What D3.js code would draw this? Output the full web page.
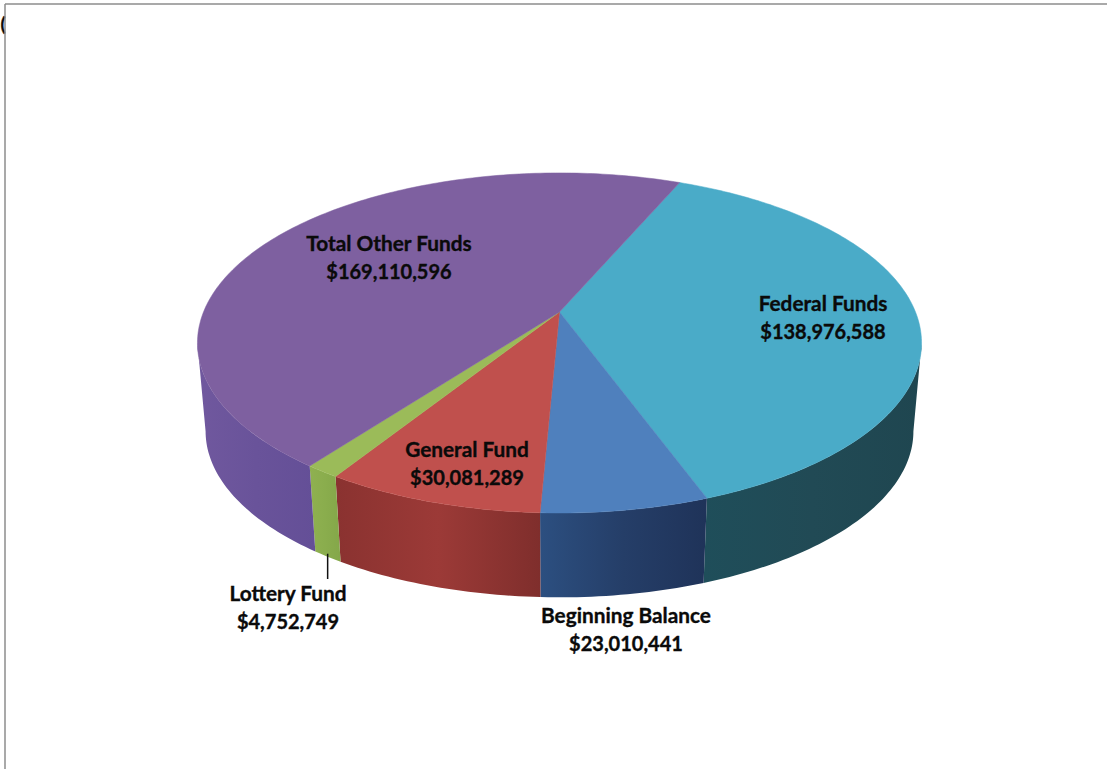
<!DOCTYPE html>
<html lang="en">
<head>
<meta charset="UTF-8">
<title>Funding sources</title>
<script src="https://d3js.org/d3.v7.min.js"></script>
<style>
    html, body { margin: 0; padding: 0; background: #fff; }
    svg { display: block; }
    text { font-family: Lato, sans-serif; font-weight: 700; fill: #0a0a0a; text-anchor: middle; stroke: #0a0a0a; stroke-width: 0.35px; }
</style>
</head>
<body>
<svg id="chart" width="1107" height="769"></svg>
<script>
// data
const categories = ["Federal Funds", "Beginning Balance", "General Fund", "Lottery Fund", "Total Other Funds"];
const amounts = [138976588, 23010441, 30081289, 4752749, 169110596];
const amountLabels = ["$138,976,588", "$23,010,441", "$30,081,289", "$4,752,749", "$169,110,596"];

// colours
const topColors = ["#4aabc8", "#4f80bd", "#c0504d", "#9bbb59", "#7e60a0"];
const wallColors = [
    ["#1f4e5a", "#214a55", "#1f4650"],
    ["#2c4f80", "#253e68", "#1f3359"],
    ["#8a3230", "#9c3a37", "#7f2e2c"],
    ["#8fb050", "#8aad4d", "#84a749"],
    ["#70589e", "#69539a", "#644f97"]
];

// label centres, first line baseline
const labelPos = [[823, 311], [626, 623], [467, 457], [288, 601], [389, 251]];
const lineGap = 27.5;

const svg = d3.select("#chart");
const defs = svg.append("defs");

// perspective of the disc: k is how much the far side shrinks
const k = 0.182;
const cx = 559.5;
const divide = a => {
    const X = Math.sin(a), Y = Math.cos(a), w = 1 + k * Y;
    return [X / w, Y / w];
};
const disc = (rx, ry, y0) => {
    const sx = d3.scaleLinear().domain([-1, 1]).range([cx - rx, cx + rx]);
    const sy = d3.scaleLinear().domain([-1, 1]).range([y0 + ry, y0 - ry]);
    return a => { const p = divide(a); return [sx(p[0]), sy(p[1])]; };
};
const topDisc = disc(356, 164.4, 312);
const baseDisc = disc(348, 160.6, 401);

const rad = d => d * Math.PI / 180;
const pie = d3.pie().sort(null).startAngle(rad(23.2)).endAngle(rad(23.2) + 2 * Math.PI);
const arcs = pie(amounts);

const line = d3.line();
const sweep = (a0, a1) => {
    const n = Math.max(2, Math.ceil(Math.abs(a1 - a0) / rad(1)));
    return d3.range(n + 1).map(i => a0 + (a1 - a0) * i / n);
};

// only the front part of the wall can be seen, between the two tangent points
const frontFrom = Math.PI / 2 + Math.asin(k);
const frontTo = 3 * Math.PI / 2 - Math.asin(k);

// walls
arcs.forEach((d, i) => {
    const a0 = Math.max(d.startAngle, frontFrom);
    const a1 = Math.min(d.endAngle, frontTo);
    if (a1 <= a0) return;
    const angles = sweep(a0, a1);
    const pts = angles.map(topDisc).concat(angles.slice().reverse().map(baseDisc));
    const xs = d3.extent(pts, p => p[0]);
    const grad = defs.append("linearGradient")
        .attr("id", "wall" + i)
        .attr("gradientUnits", "userSpaceOnUse")
        .attr("x1", xs[1]).attr("x2", xs[0]).attr("y1", 0).attr("y2", 0);
    // arcs run right to left along the front
    wallColors[i].slice().reverse().forEach((c, j) => {
        grad.append("stop").attr("offset", j / 2).attr("stop-color", c);
    });
    svg.append("path")
        .attr("d", line(pts) + "Z")
        .attr("fill", `url(#wall${i})`);
});

// top face
arcs.forEach((d, i) => {
    const pts = [[cx, 312]].concat(sweep(d.startAngle, d.endAngle).map(topDisc));
    svg.append("path")
        .attr("d", line(pts) + "Z")
        .attr("fill", topColors[i])
        .attr("stroke", topColors[i])
        .attr("stroke-width", 0.5);
});

// lottery leader line
const lotteryMid = (arcs[3].startAngle + arcs[3].endAngle) / 2;
const leaderFoot = baseDisc(lotteryMid);
svg.append("line")
    .attr("x1", leaderFoot[0]).attr("x2", leaderFoot[0])
    .attr("y1", leaderFoot[1] - 3).attr("y2", 579)
    .attr("stroke", "#111").attr("stroke-width", 1.5);

// labels
categories.forEach((name, i) => {
    const t = svg.append("text")
        .attr("x", labelPos[i][0])
        .attr("y", labelPos[i][1]);
    t.append("tspan").attr("x", labelPos[i][0]).style("font-size", "20.8px").text(name);
    t.append("tspan").attr("x", labelPos[i][0]).attr("dy", lineGap).style("font-size", "20px").text(amountLabels[i]);
});

// page frame and the cut off character at its corner
svg.append("text").attr("x", 3).attr("y", 31).style("font-size", "19px").text("(");
svg.append("line").attr("x1", 5).attr("x2", 1107).attr("y1", 4).attr("y2", 4)
    .attr("stroke", "#8c8c8c").attr("stroke-width", 1.5);
svg.append("line").attr("x1", 5).attr("x2", 5).attr("y1", 4).attr("y2", 769)
    .attr("stroke", "#8c8c8c").attr("stroke-width", 1.5);
</script>
</body>
</html>
